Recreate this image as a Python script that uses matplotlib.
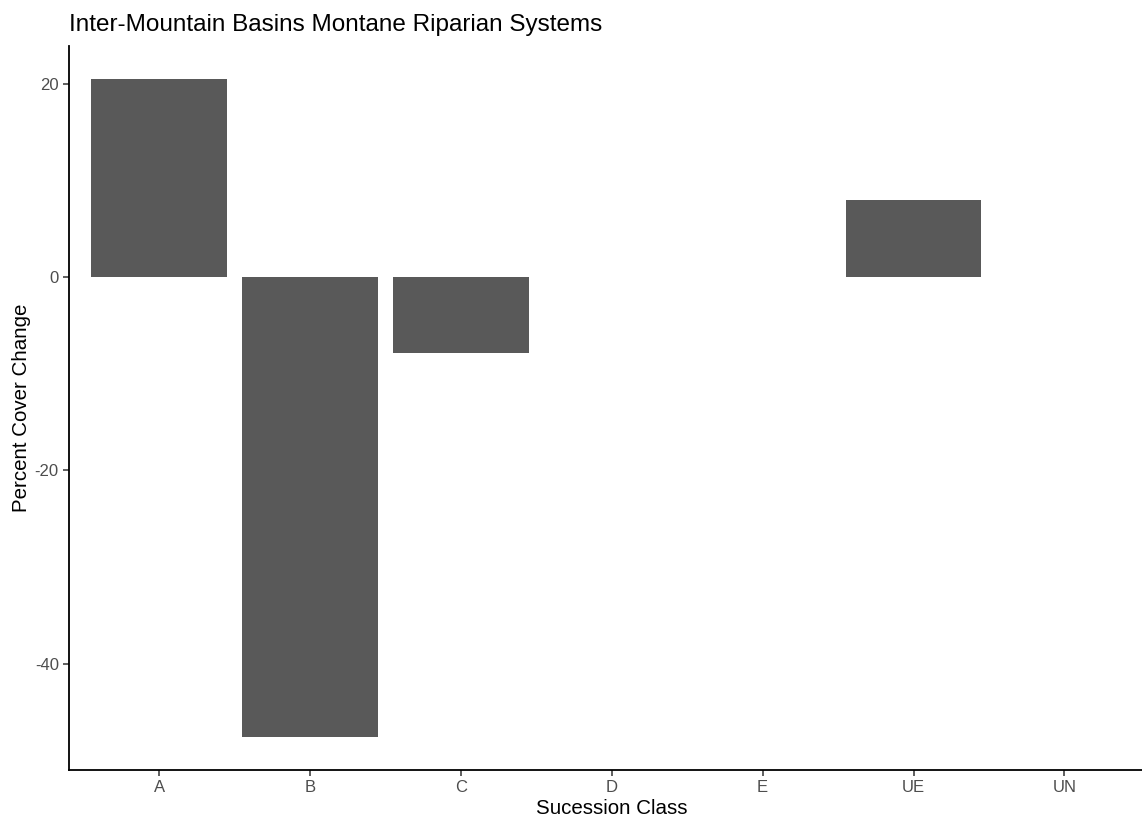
import matplotlib
matplotlib.use("Agg")
import matplotlib.pyplot as plt

plt.rcParams['font.family'] = ['Liberation Sans', 'DejaVu Sans']

classes = ["A", "B", "C", "D", "E", "UE", "UN"]
cover_change = [20.5, -47.6, -7.9, 0.0, 0.0, 8.0, 0.0]
y_ticks = [20, 0, -20, -40]

fig = plt.figure(figsize=(11.42, 8.17), dpi=100)
ax = fig.add_axes([0.060, 0.0575, 0.9514, 0.8862])

x = list(range(1, len(classes) + 1))
ax.bar(x, cover_change, width=0.9, color="#595959", edgecolor="none")

ax.set_xlim(0.4, len(classes) + 0.6)
ymin, ymax = min(cover_change), max(cover_change)
pad = 0.05 * (ymax - ymin)
ax.set_ylim(ymin - pad, ymax + pad)

ax.set_xticks(x)
ax.set_xticklabels(classes)
ax.set_yticks(y_ticks)
ax.set_yticklabels([str(v) for v in y_ticks])

for side in ("top", "right"):
    ax.spines[side].set_visible(False)
for side in ("left", "bottom"):
    ax.spines[side].set_linewidth(1.3)
    ax.spines[side].set_color("black")

ax.tick_params(axis="both", length=4, width=1.1, color="#333333",
               labelcolor="#4D4D4D", labelsize=12, pad=3)

ax.set_xlabel("Sucession Class", fontsize=14.8, color="black", labelpad=3)
ax.set_ylabel("Percent Cover Change", fontsize=14.8, color="black", labelpad=3)
ax.set_title("Inter-Mountain Basins Montane Riparian Systems", fontsize=17.5,
             loc="left", pad=11, color="black")

fig.savefig("out.png", dpi=100)
